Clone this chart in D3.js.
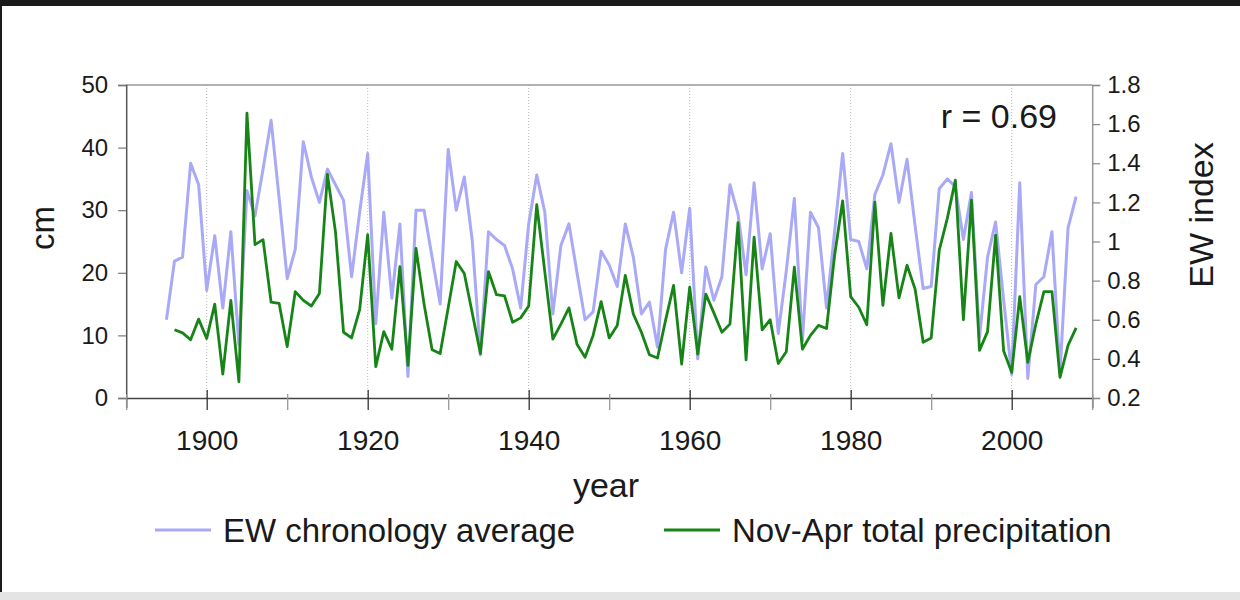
<!DOCTYPE html>
<html>
<head>
<meta charset="utf-8">
<script src="https://cdn.jsdelivr.net/npm/d3@7"></script>
<style>
  body { margin: 0; background: #fff; }
  svg { display: block; font-family: "Liberation Sans", Arial, Helvetica, sans-serif; }
</style>
</head>
<body>
<svg id="chart" width="1240" height="600"></svg>
<script>
// Years of record
const years = [
  1895, 1896, 1897, 1898, 1899, 1900, 1901, 1902, 1903, 1904,
  1905, 1906, 1907, 1908, 1909, 1910, 1911, 1912, 1913, 1914,
  1915, 1916, 1917, 1918, 1919, 1920, 1921, 1922, 1923, 1924,
  1925, 1926, 1927, 1928, 1929, 1930, 1931, 1932, 1933, 1934,
  1935, 1936, 1937, 1938, 1939, 1940, 1941, 1942, 1943, 1944,
  1945, 1946, 1947, 1948, 1949, 1950, 1951, 1952, 1953, 1954,
  1955, 1956, 1957, 1958, 1959, 1960, 1961, 1962, 1963, 1964,
  1965, 1966, 1967, 1968, 1969, 1970, 1971, 1972, 1973, 1974,
  1975, 1976, 1977, 1978, 1979, 1980, 1981, 1982, 1983, 1984,
  1985, 1986, 1987, 1988, 1989, 1990, 1991, 1992, 1993, 1994,
  1995, 1996, 1997, 1998, 1999, 2000, 2001, 2002, 2003, 2004,
  2005, 2006, 2007, 2008
];

// EW chronology average (dimensionless index, right axis)
const ewIndex = [
  0.60, 0.90, 0.92, 1.40, 1.29, 0.75, 1.03, 0.66, 1.05, 0.47,
  1.26, 1.13, 1.37, 1.62, 1.22, 0.81, 0.96, 1.51, 1.33, 1.20,
  1.37, 1.29, 1.21, 0.82, 1.15, 1.45, 0.58, 1.15, 0.71, 1.09,
  0.31, 1.16, 1.16, 0.92, 0.68, 1.47, 1.16, 1.33, 1.00, 0.42,
  1.05, 1.01, 0.98, 0.86, 0.66, 1.09, 1.34, 1.15, 0.63, 0.98,
  1.09, 0.84, 0.60, 0.64, 0.95, 0.88, 0.77, 1.09, 0.92, 0.63,
  0.69, 0.46, 0.96, 1.15, 0.84, 1.17, 0.40, 0.87, 0.70, 0.82,
  1.29, 1.14, 0.83, 1.30, 0.86, 1.04, 0.53, 0.85, 1.22, 0.49,
  1.15, 1.07, 0.66, 1.05, 1.45, 1.01, 1.00, 0.86, 1.24, 1.34,
  1.50, 1.20, 1.42, 1.08, 0.76, 0.77, 1.27, 1.32, 1.28, 1.01,
  1.25, 0.51, 0.92, 1.10, 0.70, 0.32, 1.30, 0.30, 0.78, 0.82,
  1.05, 0.33, 1.07, 1.23
];

// Nov-Apr total precipitation in cm (left axis); no record for 1895
const precipCm = [
  null, 10.9, 10.4,  9.3, 12.6,  9.5, 15.0,  3.8, 15.6,  2.6,
  45.5, 24.5, 25.3, 15.3, 15.1,  8.2, 17.0, 15.6, 14.7, 16.7,
  35.7, 26.5, 10.5,  9.6, 14.1, 26.1,  5.0, 10.6,  7.8, 21.0,
   5.2, 23.9, 15.0,  7.7,  7.1, 14.4, 21.8, 19.9, 13.5,  7.1,
  20.2, 16.5, 16.3, 12.1, 12.8, 14.7, 30.9, 20.2,  9.4, 11.8,
  14.4,  8.6,  6.5, 10.0, 15.4,  9.6, 11.6, 19.6, 13.4, 10.5,
   6.9,  6.4, 12.4, 18.0,  5.4, 17.7,  7.0, 16.6, 13.6, 10.5,
  11.8, 28.0,  6.1, 25.7, 10.9, 12.5,  5.5,  7.4, 20.9,  7.8,
  10.0, 11.6, 11.1, 22.8, 31.5, 16.2, 14.5, 11.7, 31.3, 14.8,
  26.3, 16.0, 21.2, 17.4,  8.9,  9.6, 23.6, 28.7, 34.8, 12.5,
  31.6,  7.6, 10.6, 26.0,  7.5,  4.1, 16.2,  5.7, 11.8, 17.0,
  17.0,  3.3,  8.4, 11.2
];

// Tick values and labels
const yearTicks = [1890, 1900, 1910, 1920, 1930, 1940, 1950, 1960, 1970, 1980, 1990, 2000, 2010];
const yearLabels = [1900, 1920, 1940, 1960, 1980, 2000];
const cmTicks = [0, 10, 20, 30, 40, 50];
const indexTicks = [0.2, 0.4, 0.6, 0.8, 1.0, 1.2, 1.4, 1.6, 1.8];
const seriesNames = ["EW chronology average", "Nov-Apr total precipitation"];
const corrText = "r = 0.69";

const blueColor = "#a9a9f7";
const greenColor = "#178417";

const svg = d3.select("#chart");

// page frame edges
svg.append("rect").attr("x", 0).attr("y", 0).attr("width", 1240).attr("height", 6).attr("fill", "#1b1b1b");
svg.append("rect").attr("x", 0).attr("y", 6).attr("width", 2).attr("height", 586).attr("fill", "#1b1b1b");
svg.append("rect").attr("x", 0).attr("y", 592).attr("width", 1240).attr("height", 8).attr("fill", "#e4e4e4");

const plot = { left: 126.2, right: 1092.2, top: 85, bottom: 398 };

const x = d3.scaleLinear().domain([1890, 2010]).range([plot.left, plot.right]);
const yCm = d3.scaleLinear().domain([0, 50]).range([plot.bottom, plot.top]);
const yIdx = d3.scaleLinear().domain([0.2, 1.8]).range([plot.bottom, plot.top]);

// dotted vertical gridlines at labelled years
svg.append("g").selectAll("line").data(yearLabels).join("line")
  .attr("x1", d => x(d)).attr("x2", d => x(d))
  .attr("y1", plot.top).attr("y2", plot.bottom)
  .attr("stroke", "#bbb").attr("stroke-width", 1).attr("stroke-dasharray", "1,2");

// top frame line
svg.append("line")
  .attr("x1", plot.left).attr("x2", plot.right)
  .attr("y1", plot.top).attr("y2", plot.top)
  .attr("stroke", "#999").attr("stroke-width", 1.5);

// series lines
const ewLine = d3.line()
  .x((d, i) => x(years[i]))
  .y(d => yIdx(d));
const prLine = d3.line()
  .defined(d => d !== null)
  .x((d, i) => x(years[i]))
  .y(d => yCm(d));

svg.append("path").datum(ewIndex)
  .attr("d", ewLine).attr("fill", "none")
  .attr("stroke", blueColor).attr("stroke-width", 3).attr("stroke-linejoin", "round");
svg.append("path").datum(precipCm)
  .attr("d", prLine).attr("fill", "none")
  .attr("stroke", greenColor).attr("stroke-width", 2.8).attr("stroke-linejoin", "round");

// left axis (cm)
const gLeft = svg.append("g").attr("transform", `translate(${plot.left},0)`)
  .call(d3.axisLeft(yCm).tickValues(cmTicks).tickSize(8).tickPadding(10).tickFormat(d3.format("d")));
gLeft.select(".domain").attr("stroke", "#555").attr("stroke-width", 1.5);
gLeft.selectAll(".tick line").attr("stroke", "#777").attr("stroke-width", 1.2);
gLeft.selectAll(".tick text").attr("font-size", 24).attr("fill", "#1a1a1a").attr("font-family", null);

// right axis (EW index)
const gRight = svg.append("g").attr("transform", `translate(${plot.right},0)`)
  .call(d3.axisRight(yIdx).tickValues(indexTicks).tickSize(8).tickPadding(7).tickFormat(d => d3.format("~g")(d)));
gRight.select(".domain").attr("stroke", "#999").attr("stroke-width", 1.5);
gRight.selectAll(".tick line").attr("stroke", "#888").attr("stroke-width", 1.2);
gRight.selectAll(".tick text").attr("font-size", 24).attr("fill", "#1a1a1a").attr("font-family", null);

// bottom axis (year)
const gBottom = svg.append("g").attr("transform", `translate(0,${plot.bottom})`)
  .call(d3.axisBottom(x).tickValues(yearTicks).tickSize(10).tickPadding(22)
    .tickFormat(d => yearLabels.includes(d) ? d : ""));
gBottom.select(".domain").attr("stroke", "#444").attr("stroke-width", 1.5);
gBottom.selectAll(".tick line")
  .attr("y1", d => yearLabels.includes(d) ? -8 : -4)
  .attr("y2", 12)
  .attr("stroke", d => yearLabels.includes(d) ? "#333" : "#999")
  .attr("stroke-width", 1.3);
gBottom.selectAll(".tick text").attr("font-size", 28).attr("fill", "#1a1a1a").attr("font-family", null);

// axis titles
svg.append("text")
  .attr("transform", "translate(54,228) rotate(-90)")
  .attr("text-anchor", "middle").attr("font-size", 33).attr("fill", "#1a1a1a")
  .text("cm");
svg.append("text")
  .attr("transform", "translate(1213,215) rotate(-90)")
  .attr("text-anchor", "middle").attr("font-size", 34).attr("fill", "#1a1a1a")
  .text("EW index");
svg.append("text")
  .attr("x", 606).attr("y", 497)
  .attr("text-anchor", "middle").attr("font-size", 34).attr("fill", "#1a1a1a")
  .text("year");

// correlation note
svg.append("text")
  .attr("x", 1057).attr("y", 128)
  .attr("text-anchor", "end").attr("font-size", 34).attr("fill", "#1a1a1a")
  .text(corrText);

// legend
const legendItems = [
  { name: seriesNames[0], color: blueColor, x0: 155 },
  { name: seriesNames[1], color: greenColor, x0: 664 }
];
const lg = svg.append("g").selectAll("g").data(legendItems).join("g")
  .attr("transform", d => `translate(${d.x0},530)`);
lg.append("line").attr("x1", 0).attr("x2", 56).attr("y1", 0).attr("y2", 0)
  .attr("stroke", d => d.color).attr("stroke-width", 3);
lg.append("text").attr("x", 68).attr("y", 12)
  .attr("font-size", 33).attr("fill", "#1a1a1a")
  .text(d => d.name);
</script>
</body>
</html>
